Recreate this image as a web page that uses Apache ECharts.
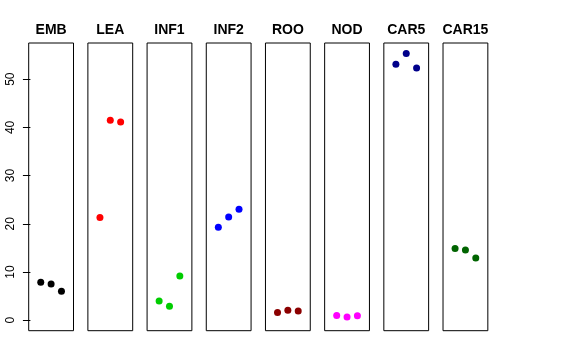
<!DOCTYPE html>
<html>
<head>
<meta charset="utf-8">
<script src="https://cdn.jsdelivr.net/npm/echarts@6/dist/echarts.min.js"></script>
<style>html,body{margin:0;padding:0;background:#fff;}#c{width:576px;height:360px;}</style>
</head>
<body>
<div id="c"></div>
<script>
var panels = ['EMB', 'LEA', 'INF1', 'INF2', 'ROO', 'NOD', 'CAR5', 'CAR15'];
var colors = ['#000000', '#FF0000', '#00CD00', '#0000FF', '#8B0000', '#FF00FF', '#00008B', '#006400'];
var replicate = [1, 2, 3];
var EMB = [7.9, 7.5, 6.0];
var LEA = [21.3, 41.5, 41.1];
var INF1 = [4.0, 2.9, 9.2];
var INF2 = [19.3, 21.4, 23.0];
var ROO = [1.6, 2.1, 1.9];
var NOD = [1.0, 0.7, 0.95];
var CAR5 = [53.1, 55.3, 52.3];
var CAR15 = [14.9, 14.6, 12.9];
var yTicks = [0, 10, 20, 30, 40, 50];
var values = [EMB, LEA, INF1, INF2, ROO, NOD, CAR5, CAR15];

(function () {
var grids = [], xAxes = [], yAxes = [], series = [], titles = [];
var left0 = 28.7, step = 59.19, w = 44.8, gTop = 43, gH = 287.7;
panels.forEach(function (name, i) {
  var l = left0 + i * step;
  grids.push({left: l, top: gTop, width: w, height: gH, show: true, borderColor: '#000', borderWidth: 1, backgroundColor: 'transparent'});
  xAxes.push({gridIndex: i, type: 'value', min: -0.165, max: 4.165, show: false});
  yAxes.push({
    gridIndex: i, type: 'value', min: -2.16, max: 57.5,
    show: i === 0,
    axisLine: {show: false},
    splitLine: {show: false},
    axisTick: {show: true, inside: false, length: 7.5, lineStyle: {color: '#000'}, customValues: yTicks},
    axisLabel: {show: true, rotate: 90, margin: 12, fontFamily: 'Liberation Sans, Arial', fontSize: 12, color: '#000', customValues: yTicks}
  });
  series.push({
    type: 'scatter', xAxisIndex: i, yAxisIndex: i,
    symbol: 'circle', symbolSize: 7,
    itemStyle: {color: colors[i], opacity: 1},
    data: replicate.map(function (x, k) { return [x, values[i][k]]; }),
    silent: true
  });
  titles.push({text: name, left: l + w / 2, top: 23, textAlign: 'center', padding: 0,
    textStyle: {fontFamily: 'Liberation Sans, Arial', fontWeight: 'bold', fontSize: 14, color: '#000'}});
});

var chart = echarts.init(document.getElementById('c'), null, {renderer: 'canvas'});
chart.setOption({
  animation: false,
  backgroundColor: '#fff',
  title: titles,
  grid: grids,
  xAxis: xAxes,
  yAxis: yAxes,
  series: series
});
})();
</script>
</body>
</html>
